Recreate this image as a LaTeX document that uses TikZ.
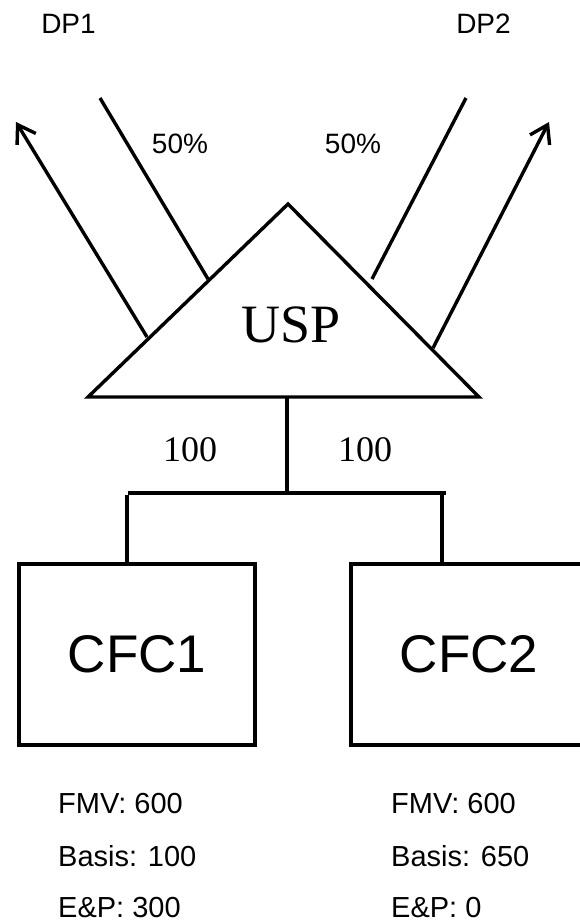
\documentclass[tikz,border=0pt]{standalone}
\usepackage{fontspec}
\setmainfont{Liberation Serif}
\newfontfamily\arialf{Liberation Sans}
\usetikzlibrary{arrows.meta}
\begin{document}
\begin{tikzpicture}[x=1pt,y=-1pt,
  ln/.style={line width=3.4pt},
  sanslbl/.style={font=\arialf\fontsize{28}{34}\selectfont, inner sep=0pt, anchor=base},
  infolbl/.style={font=\arialf\fontsize{29}{34}\selectfont, inner sep=0pt, anchor=base west},
  numlbl/.style={font=\fontsize{36}{42}\selectfont, inner sep=0pt, anchor=base},
  cfcbox/.style={draw, line width=4pt, minimum width=236pt, minimum height=181pt, inner sep=0pt, font=\arialf\fontsize{53}{60}\selectfont},
  arr/.style={ln, -{Straight Barb[length=17pt,width=22pt]}}
]
\useasboundingbox[fill=white] (0,0) rectangle (580,922);

% labels at top
\node[sanslbl] (dp1) at (68.5,33) {DP1};
\node[sanslbl] (dp2) at (483.5,33) {DP2};
\node[sanslbl] (p1) at (180,153) {50\%};
\node[sanslbl] (p2) at (353,153) {50\%};

% triangle USP
\coordinate (apex) at (288,204);
\coordinate (bl) at (88,397);
\coordinate (br) at (479,397);
\draw[ln, line join=miter] (apex) -- (br) -- (bl) -- cycle;
\node[font=\fontsize{54}{60}\selectfont, inner sep=0pt, anchor=base] (usp) at (291,342) {USP};

% arrows and lines from USP
\coordinate (a1tail) at (147,337);
\coordinate (a1tip) at (16,122);
\coordinate (l1bot) at (208,279);
\coordinate (l1top) at (100,98);
\coordinate (l2bot) at (372,279);
\coordinate (l2top) at (466,98);
\coordinate (a2tail) at (433,348);
\coordinate (a2tip) at (549,122);
\draw[arr] (a1tail) -- (a1tip);
\draw[ln] (l1bot) -- (l1top);
\draw[ln] (l2bot) -- (l2top);
\draw[arr] (a2tail) -- (a2tip);

% tree below
\coordinate (stem) at (287,397);
\coordinate (junc) at (287,493);
\coordinate (barl) at (128,493);
\coordinate (barr) at (446,493);
\coordinate (d1) at (127,495);
\coordinate (d2) at (442,495);
\node[cfcbox] (cfc1) at (137,654.5) {CFC1};
\node[cfcbox] (cfc2) at (469,654.5) {CFC2};
\draw[ln] (stem) -- (junc);
\draw[ln] (barl) -- (barr);
\draw[ln] (d1) -- (d1 |- cfc1.north);
\draw[ln] (d2) -- (d2 |- cfc2.north);
\node[numlbl] (n1) at (190,461) {100};
\node[numlbl] (n2) at (365,461) {100};

% info texts
\node[infolbl] (f1) at (58,813) {FMV: 600};
\node[infolbl] (b1) at (58,866) {Basis: 100};
\node[infolbl] (e1) at (58,917.5) {E\&P: 300};
\node[infolbl] (f2) at (391,813) {FMV: 600};
\node[infolbl] (b2) at (391,866) {Basis: 650};
\node[infolbl] (e2) at (391,917.5) {E\&P: 0};
\end{tikzpicture}
\end{document}
